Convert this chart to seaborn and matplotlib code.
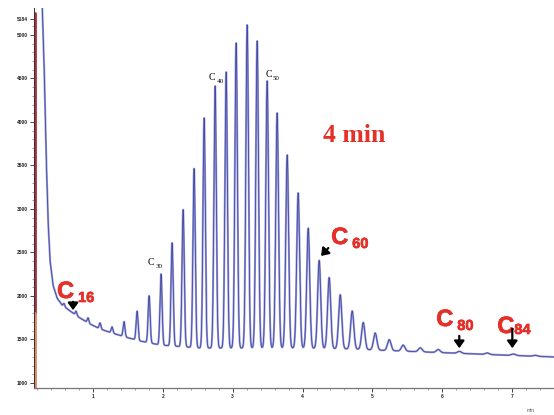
import numpy as np
import pandas as pd
import matplotlib
matplotlib.use("Agg")
import matplotlib.pyplot as plt
import matplotlib.patheffects as pe
import seaborn as sns

# 基线（溶剂峰拖尾 + 漂移）
base_min = [0.155, 0.241, 0.270, 0.298, 0.327, 0.356, 0.384, 0.427, 0.485, 0.556,
            0.671, 0.814, 0.957, 1.101, 1.272, 1.459, 1.674, 1.960, 2.533, 3.250,
            3.966, 4.682, 5.399, 6.115, 6.831, 7.605]
base_sig = [7000, 6000, 5400, 4713, 3678, 2873, 2414, 2126, 1977, 1897,
            1828, 1747, 1678, 1621, 1575, 1529, 1483, 1437, 1402, 1402,
            1402, 1391, 1368, 1345, 1322, 1299]

# 各峰保留时间 (min) 与峰高（相对基线）
peak_min = [0.585, 0.757, 0.929, 1.101, 1.272, 1.444, 1.631, 1.803, 1.974, 2.132,
            2.290, 2.447, 2.591, 2.748, 2.906, 3.049, 3.207, 3.350, 3.493, 3.636,
            3.780, 3.937, 4.081, 4.238, 4.381, 4.539, 4.711, 4.869, 5.040, 5.241,
            5.441, 5.685, 5.943, 6.244, 6.645, 7.018, 7.333]
peak_height = [34, 46, 57, 69, 69, 172, 333, 540, 816, 1184,
               1575, 2057, 2644, 3011, 3172, 3506, 3713, 3529, 3069, 2701,
               2218, 1782, 1379, 1011, 816, 621, 437, 310, 195, 126,
               69, 46, 34, 23, 17, 17, 11]

x_ticks = [1, 2, 3, 4, 5, 6, 7]
y_ticks = [1000, 1500, 2000, 2500, 3000, 3500, 4000, 4500, 5000, 5184]
y_ticklabels = ["1000", "1500", "2000", "2500", "3000", "3500", "4000", "4500", "5000", "5184"]

# 构建色谱图曲线
t = np.linspace(0.155, 7.6, 12000)
sig = np.interp(t, base_min, base_sig)
for pm, ph in zip(peak_min, peak_height):
    w = 0.009 + 0.003 * pm
    sig = sig + ph * np.exp(-0.5 * ((t - pm) / w) ** 2)
df = pd.DataFrame({"time": t, "signal": sig})

sns.set_theme(style="white")
plt.rcParams["font.family"] = ["Liberation Sans", "DejaVu Sans"]

fig = plt.figure(figsize=(5.54, 4.15), dpi=100)
ax = fig.add_axes([34 / 554, 27 / 415, 1 - 34 / 554, (388 - 8) / 415])

sns.lineplot(data=df, x="time", y="signal", ax=ax, color="#9a9ed9",
             linewidth=1.5, estimator=None, sort=False)
sns.lineplot(data=df, x="time", y="signal", ax=ax, color="#4449a3",
             linewidth=0.6, estimator=None, sort=False)

ax.set_xlim(0.155, 7.6)
ax.set_ylim(942.5, 1000 + 375 * 500 / 43.5)
ax.set_xlabel("")
ax.set_ylabel("")

ax.set_xticks(x_ticks)
ax.set_xticks(np.arange(0.2, 7.6, 0.2), minor=True)
ax.set_yticks(y_ticks)
ax.set_yticklabels(y_ticklabels)
ax.set_yticks(np.arange(1000, 5200, 100), minor=True)
ax.tick_params(axis="both", which="major", direction="out", length=3, width=0.6,
               labelsize=3.5, colors="#222222", pad=1.5, bottom=True, left=True)
ax.tick_params(axis="both", which="minor", direction="out", length=1.5, width=0.4,
               colors="#555555", bottom=True, left=True)
for lab in ax.get_yticklabels() + ax.get_xticklabels():
    lab.set_fontweight("bold")

for s in ["top", "right"]:
    ax.spines[s].set_visible(False)
ax.spines["bottom"].set_color("#777777")
ax.spines["bottom"].set_linewidth(0.9)
ax.spines["left"].set_color("#333333")
ax.spines["left"].set_linewidth(0.7)
# 左侧彩色轴条
ax.axvline(0.172, ymin=0.197, ymax=0.987, color="#b02c40", linewidth=2.0)
ax.axvline(0.172, ymin=0.0, ymax=0.197, color="#e4845c", linewidth=2.0)


def px(x, y):
    return 0.155 + (x - 34) / 69.8, 1000 + (383 - y) * 500 / 43.5


red = "#e5302a"
heavy = [pe.withStroke(linewidth=0.5, foreground=red)]


def big_label(cx, cy, sub, sx, sy):
    ax.text(*px(cx, cy), "C", color=red, fontsize=17, fontweight="bold",
            ha="left", va="baseline", path_effects=heavy)
    ax.text(*px(sx, sy), sub, color=red, fontsize=10.5, fontweight="bold",
            ha="left", va="baseline", path_effects=heavy)


def arrow(x0, y0, x1, y1):
    ax.annotate("", xy=px(x1, y1), xytext=px(x0, y0),
                arrowprops=dict(arrowstyle="-|>,head_width=0.25,head_length=0.35",
                                color="black", lw=1.6))


big_label(57, 298, "16", 78, 302)
arrow(73, 299, 73, 313)
big_label(331, 244, "60", 352, 248)
arrow(330, 246, 319, 258)
big_label(436, 326, "80", 457, 330)
arrow(459, 333, 459, 351)
big_label(497, 333, "84", 514, 334)
arrow(512, 326, 512, 351)


def small_label(cx, cy, sub):
    ax.text(*px(cx, cy), "C", color="black", fontsize=7, family="Liberation Serif",
            ha="left", va="baseline")
    ax.text(*px(cx + 8, cy + 3), sub, color="black", fontsize=5,
            family="Liberation Serif", ha="left", va="baseline")


small_label(148, 265, "30")
small_label(209, 80, "40")
small_label(265, 77, "50")

ax.text(*px(323, 142), "4 min", color=red, fontsize=18.5, fontweight="bold",
        family="Liberation Serif", ha="left", va="baseline")
fig.text(527 / 554, 1 - 412 / 415, "min", fontsize=3.5, color="#555555",
         ha="left", va="baseline")

fig.savefig("out.png", dpi=100, facecolor="white")
